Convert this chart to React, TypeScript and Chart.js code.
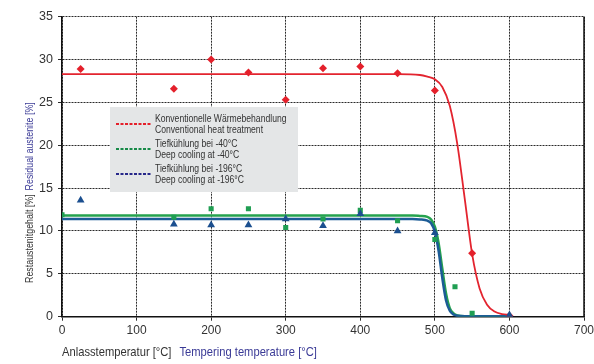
import React, { useEffect, useRef } from "react";
import { Chart, registerables } from "chart.js";

Chart.register(...registerables);

// Measured points (tempering temperature °C -> residual austenite %)
const redTemps = [25, 150, 200, 250, 300, 350, 400, 450, 500, 550, 600];
const redValues = [28.9, 26.6, 30.0, 28.5, 25.3, 29.0, 29.2, 28.4, 26.4, 7.4, 0.1];

const greenTemps = [0, 150, 200, 250, 300, 350, 400, 450, 500, 527, 550];
const greenValues = [11.9, 11.6, 12.6, 12.6, 10.4, 11.4, 12.4, 11.2, 9.0, 3.5, 0.4];

const blueTemps = [25, 150, 200, 250, 300, 350, 400, 450, 500, 600];
const blueValues = [13.6, 10.8, 10.7, 10.7, 11.4, 10.6, 12.0, 10.0, 9.8, 0.2];

// Fitted curves
const redCurveTemps = [0, 450, 480, 490, 500, 510, 520, 530, 540, 550, 560, 570, 580, 590, 600];
const redCurveValues = [28.3, 28.3, 28.2, 28.0, 27.7, 26.8, 24.6, 20.2, 13.8, 7.3, 3.3, 1.4, 0.6, 0.3, 0.2];

const greenCurveTemps = [0, 470, 480, 490, 495, 500, 505, 510, 515, 520, 525, 530, 540, 600];
const greenCurveValues = [11.8, 11.8, 11.75, 11.65, 11.35, 10.5, 8.6, 5.6, 2.7, 1.0, 0.4, 0.15, 0.05, 0.05];

const blueCurveTemps = [0, 470, 480, 490, 495, 500, 505, 510, 515, 520, 525, 530, 540, 600];
const blueCurveValues = [11.4, 11.4, 11.35, 11.2, 10.9, 9.9, 7.7, 4.5, 1.9, 0.7, 0.25, 0.1, 0.05, 0.05];

const legendLines1 = ["Konventionelle Wärmebehandlung", "Conventional heat treatment"];
const legendLines2 = ["Tiefkühlung bei -40°C", "Deep cooling at -40°C"];
const legendLines3 = ["Tiefkühlung bei -196°C", "Deep cooling at -196°C"];

const xTitleDe = "Anlasstemperatur [°C]";
const xTitleEn = "Tempering temperature [°C]";
const yTitleDe = "Restaustenitgehalt [%]";
const yTitleEn = "Residual austenite [%]";

const FONT = "'Liberation Sans', Arial, sans-serif";
const CONDENSE = 0.86;

const toXY = (xs: number[], ys: number[]) => xs.map((x, i) => ({ x, y: ys[i] }));

const RED = "#e4202b";
const GREEN = "#1f9e52";
const BLUE = "#1b4f8f";

// draws text horizontally condensed (the original face is a narrow sans); returns drawn width
function drawNarrow(ctx: CanvasRenderingContext2D, text: string, x: number, y: number) {
  ctx.save();
  ctx.translate(x, y);
  ctx.scale(CONDENSE, 1);
  ctx.fillText(text, 0, 0);
  const w = ctx.measureText(text).width * CONDENSE;
  ctx.restore();
  return w;
}

const overlayPlugin = {
  id: "overlay",
  afterDraw(chart: any) {
    const ctx = chart.ctx as CanvasRenderingContext2D;
    const area = chart.chartArea;
    ctx.save();
    // right border
    ctx.strokeStyle = "#111";
    ctx.lineWidth = 1.5;
    ctx.setLineDash([]);
    ctx.beginPath();
    ctx.moveTo(area.right, area.top);
    ctx.lineTo(area.right, area.bottom);
    ctx.stroke();

    // legend box
    const bx = 110, by = 107, bw = 188, bh = 85;
    ctx.fillStyle = "#e4e6e7";
    ctx.fillRect(bx, by, bw, bh);
    const items = [
      { lines: legendLines1, color: RED, y: 124 },
      { lines: legendLines2, color: "#178a48", y: 149 },
      { lines: legendLines3, color: "#27288a", y: 174 },
    ];
    ctx.font = `10px ${FONT}`;
    ctx.textBaseline = "middle";
    ctx.textAlign = "left";
    for (const it of items) {
      ctx.strokeStyle = it.color;
      ctx.lineWidth = 2;
      ctx.setLineDash([3, 1.5]);
      ctx.beginPath();
      ctx.moveTo(116, it.y);
      ctx.lineTo(152, it.y);
      ctx.stroke();
      ctx.setLineDash([]);
      ctx.fillStyle = "#333";
      drawNarrow(ctx, it.lines[0], 155, it.y - 5);
      drawNarrow(ctx, it.lines[1], 155, it.y + 6);
    }

    // x title
    ctx.font = `13px ${FONT}`;
    ctx.textBaseline = "middle";
    ctx.fillStyle = "#333";
    const w1 = drawNarrow(ctx, xTitleDe, 62, 352);
    ctx.fillStyle = "#3a3a96";
    drawNarrow(ctx, xTitleEn, 62 + w1 + 8, 352);

    // y title
    ctx.font = `10.3px ${FONT}`;
    ctx.translate(30, 283);
    ctx.rotate(-Math.PI / 2);
    ctx.fillStyle = "#333";
    const w2 = drawNarrow(ctx, yTitleDe, 0, 0);
    ctx.fillStyle = "#3a3a96";
    drawNarrow(ctx, yTitleEn, w2 + 4, 0);
    ctx.restore();
  },
};

export default function App() {
  const ref = useRef<HTMLCanvasElement | null>(null);
  useEffect(() => {
    if (!ref.current) return;
    const chart = new Chart(ref.current, {
      type: "scatter",
      data: {
        datasets: [
          {
            label: "blue pts",
            data: toXY(blueTemps, blueValues),
            pointStyle: "triangle",
            pointRadius: 4.5,
            backgroundColor: BLUE,
            borderColor: BLUE,
            borderWidth: 0,
            order: 1,
          },
          {
            label: "green pts",
            data: toXY(greenTemps, greenValues),
            pointStyle: "rect",
            pointRadius: 3.6,
            backgroundColor: GREEN,
            borderColor: GREEN,
            borderWidth: 0,
            order: 2,
          },
          {
            label: "red pts",
            data: toXY(redTemps, redValues),
            pointStyle: "rectRot",
            pointRadius: 4,
            backgroundColor: RED,
            borderColor: RED,
            borderWidth: 0,
            order: 3,
          },
          {
            label: "blue curve",
            data: toXY(blueCurveTemps, blueCurveValues),
            showLine: true,
            pointRadius: 0,
            borderColor: "#1c5c96",
            borderWidth: 2.5,
            cubicInterpolationMode: "monotone",
            order: 10,
          },
          {
            label: "green curve",
            data: toXY(greenCurveTemps, greenCurveValues),
            showLine: true,
            pointRadius: 0,
            borderColor: "#25a24e",
            borderWidth: 2.5,
            cubicInterpolationMode: "monotone",
            order: 11,
          },
          {
            label: "red curve",
            data: toXY(redCurveTemps, redCurveValues),
            showLine: true,
            pointRadius: 0,
            borderColor: "#e3242f",
            borderWidth: 1.8,
            cubicInterpolationMode: "monotone",
            order: 12,
          },
        ] as any,
      },
      options: {
        animation: false,
        responsive: false,
        devicePixelRatio: 1,
        layout: { padding: { left: 0, right: 10, top: 16.7, bottom: 0 } },
        plugins: { legend: { display: false }, tooltip: { enabled: false } },
        scales: {
          x: {
            type: "linear",
            min: 0,
            max: 700,
            ticks: { stepSize: 100, color: "#333", font: { family: FONT, size: 12 }, padding: 3 },
            grid: { color: "#2a2a2a", lineWidth: 1, tickLength: 4 },
            border: { display: true, color: "#111", width: 1.5, dash: [2, 1] },
            afterFit(scale: any) {
              scale.height = 47.3;
              scale.paddingLeft = 0;
              scale.paddingRight = 0;
            },
          },
          y: {
            min: 0,
            max: 35,
            ticks: { stepSize: 5, color: "#333", font: { family: FONT, size: 12.5 }, padding: 5 },
            grid: { color: "#2a2a2a", lineWidth: 1, tickLength: 4 },
            border: { display: true, color: "#111", width: 1.5, dash: [2, 1] },
            afterFit(scale: any) {
              scale.width = 62;
            },
          },
        },
      } as any,
      plugins: [overlayPlugin],
    });
    return () => chart.destroy();
  }, []);
  return (
    <div style={{ position: "fixed", left: 0, top: 0, width: 594, height: 364, background: "#fff" }}>
      <canvas ref={ref} width={594} height={364} style={{ width: 594, height: 364 }} />
    </div>
  );
}
